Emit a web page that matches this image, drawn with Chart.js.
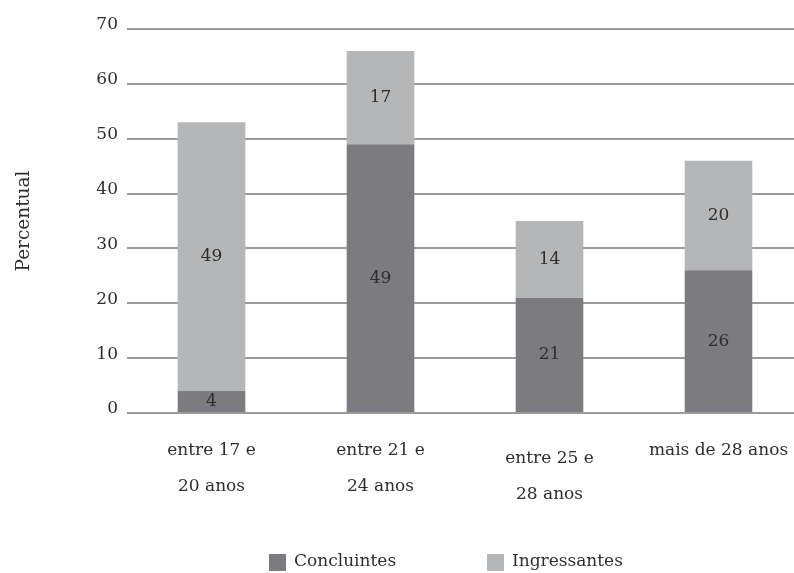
<!DOCTYPE html>
<html>
<head>
<meta charset="utf-8">
<script src="https://cdn.jsdelivr.net/npm/chart.js@4"></script>
<style>
    html, body { margin: 0; padding: 0; background: #fff; overflow: hidden; }
    #wrap { width: 803px; height: 573px; }
</style>
</head>
<body>
<div id="wrap"><canvas id="ageChart" width="803" height="573"></canvas></div>
<script>
const categories = [
    ['entre 17 e', '20 anos'],
    ['entre 21 e', '24 anos'],
    ['entre 25 e', '28 anos'],
    ['mais de 28 anos']
];
const concluintes = [4, 49, 21, 26];
const ingressantes = [49, 17, 14, 20];

const FONT = "'DejaVu Serif', 'Liberation Serif', serif";
const TEXT = '#2e2e2e';
// the third category label sits a little lower than the others
const labelDrop = [0, 0, 8, 0];

// numbers in the middle of each stacked segment
const segmentLabels = {
    id: 'segmentLabels',
    afterDatasetsDraw(chart) {
        const ctx = chart.ctx;
        ctx.save();
        ctx.font = '17px ' + FONT;
        ctx.fillStyle = TEXT;
        ctx.textAlign = 'center';
        ctx.textBaseline = 'middle';
        chart.data.datasets.forEach((ds, di) => {
            chart.getDatasetMeta(di).data.forEach((bar, i) => {
                ctx.fillText(String(ds.data[i]), bar.x, (bar.y + bar.base) / 2);
            });
        });
        ctx.restore();
    }
};

// category labels under the axis, drawn line by line
const categoryLabels = {
    id: 'categoryLabels',
    afterDraw(chart) {
        const ctx = chart.ctx;
        const xs = chart.scales.x;
        const top = chart.chartArea.bottom + 38;
        ctx.save();
        ctx.font = '17px ' + FONT;
        ctx.fillStyle = TEXT;
        ctx.textAlign = 'center';
        ctx.textBaseline = 'middle';
        chart.data.labels.forEach((lines, i) => {
            const x = xs.getPixelForValue(i);
            lines.forEach((line, j) => {
                ctx.fillText(line, x, top + labelDrop[i] + j * 36);
            });
        });
        ctx.restore();
    }
};

// legend row at the bottom
const bottomLegend = {
    id: 'bottomLegend',
    afterDraw(chart) {
        const ctx = chart.ctx;
        const starts = [269, 487];
        const y = 562;
        ctx.save();
        ctx.font = '17px ' + FONT;
        ctx.textBaseline = 'middle';
        ctx.textAlign = 'left';
        chart.data.datasets.forEach((ds, i) => {
            ctx.fillStyle = ds.backgroundColor;
            ctx.fillRect(starts[i], y - 8, 17, 17);
            ctx.fillStyle = TEXT;
            ctx.fillText(ds.label, starts[i] + 25, y);
        });
        ctx.restore();
    }
};

const ctx = document.getElementById('ageChart').getContext('2d');

const ageChart = new Chart(ctx, {
    type: 'bar',
    data: {
        labels: categories,
        datasets: [{
            label: 'Concluintes',
            data: concluintes,
            backgroundColor: '#7c7b80',
            categoryPercentage: 1,
            barPercentage: 0.4
        }, {
            label: 'Ingressantes',
            data: ingressantes,
            backgroundColor: '#b4b6b8',
            categoryPercentage: 1,
            barPercentage: 0.4
        }]
    },
    options: {
        responsive: false,
        animation: false,
        layout: { padding: { top: 29, left: 0, right: 0, bottom: 0 } },
        plugins: {
            legend: { display: false },
            tooltip: { enabled: false }
        },
        scales: {
            x: {
                stacked: true,
                grid: { display: false },
                border: { display: false },
                ticks: { display: false },
                afterFit: s => { s.height = 160; }
            },
            y: {
                stacked: true,
                min: 0,
                max: 70,
                ticks: {
                    stepSize: 10,
                    padding: 9,
                    labelOffset: -4,
                    color: TEXT,
                    font: { family: FONT, size: 17 }
                },
                grid: { color: '#9b9b9b', lineWidth: 2, drawTicks: false },
                border: { display: false },
                title: {
                    display: true,
                    text: 'Percentual',
                    color: TEXT,
                    font: { family: FONT, size: 18.5 },
                    padding: { top: 13, bottom: 0 }
                },
                afterFit: s => { s.width = 127; }
            }
        }
    },
    plugins: [segmentLabels, categoryLabels, bottomLegend]
});
</script>
</body>
</html>
